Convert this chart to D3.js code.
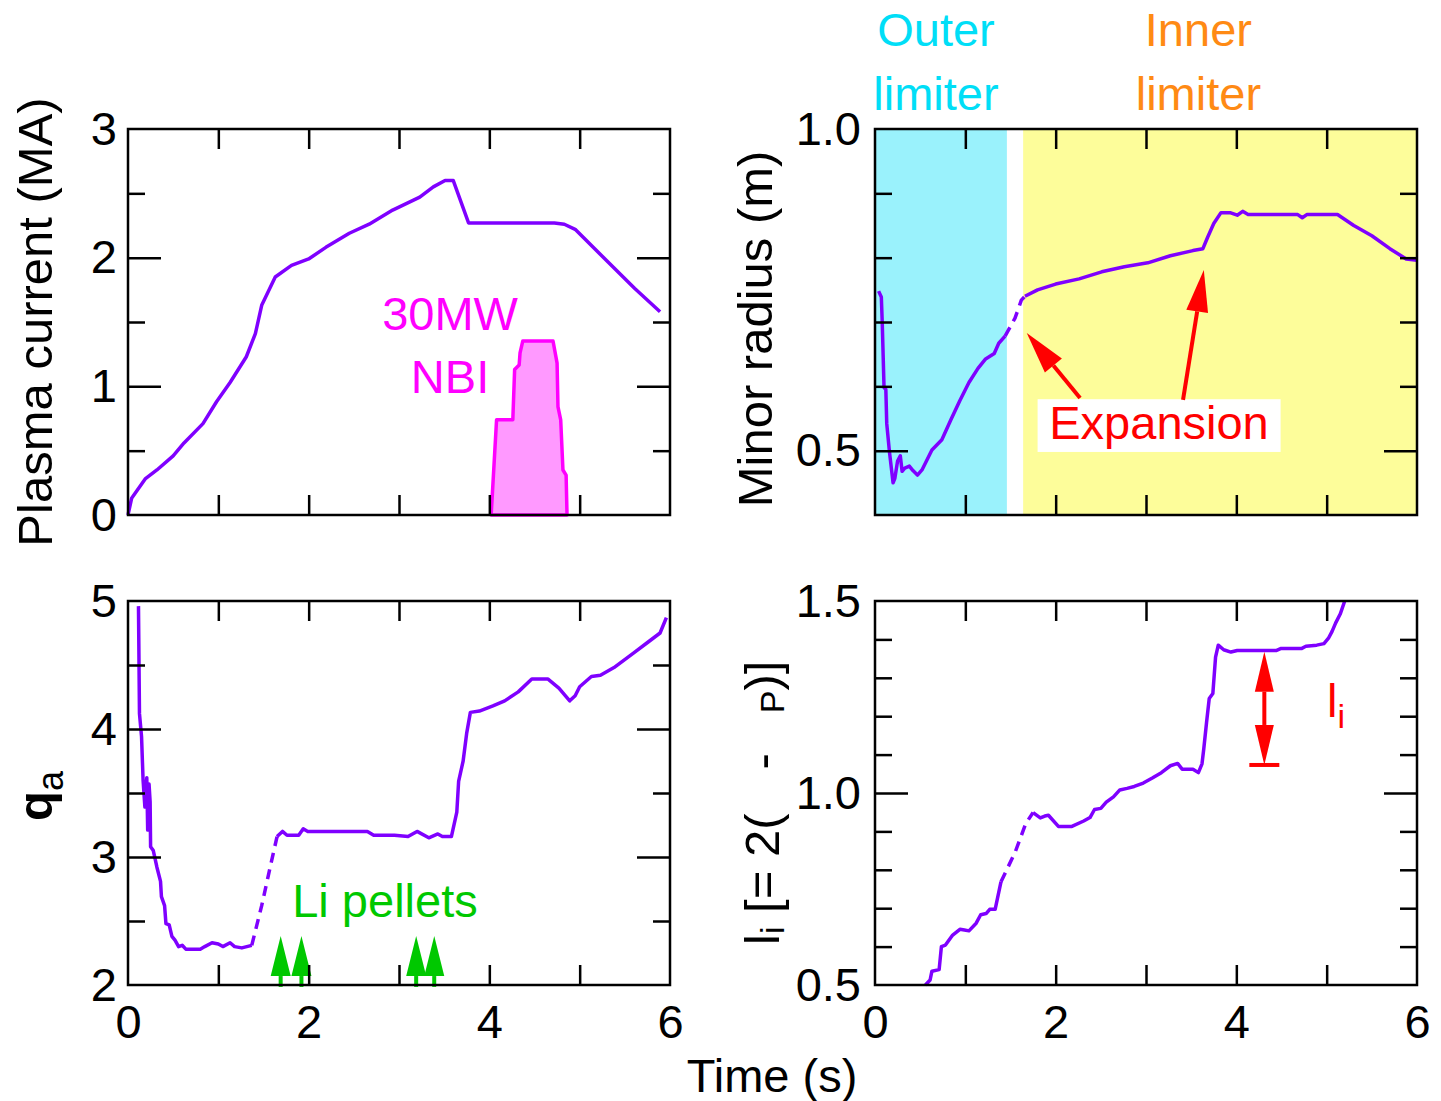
<!DOCTYPE html>
<html>
<head>
<meta charset="utf-8">
<script src="https://d3js.org/d3.v7.min.js"></script>
<style>
body { margin: 0; background: #fff; }
svg text { font-family: "Liberation Sans", Arial, sans-serif; }
</style>
</head>
<body>
<div id="chart"></div>
<script>
// ---- data (time in s) ----
const timeTicks = [1, 2, 3, 4, 5];
const timeLabels = [0, 2, 4, 6];

// plasma current (MA)
const currentT = [0, 0.04, 0.19, 0.32, 0.50, 0.62, 0.83, 0.98, 1.13, 1.31, 1.41, 1.48, 1.63, 1.81, 2.00, 2.19, 2.45, 2.67, 2.93, 3.23, 3.38, 3.51, 3.60, 3.77, 4.72, 4.83, 4.95, 5.61, 5.89];
const currentMA = [0, 0.13, 0.28, 0.35, 0.46, 0.56, 0.71, 0.88, 1.03, 1.23, 1.41, 1.63, 1.85, 1.94, 1.99, 2.08, 2.19, 2.26, 2.37, 2.47, 2.55, 2.60, 2.60, 2.27, 2.27, 2.26, 2.22, 1.76, 1.58];

// NBI power trace (drawn on the current scale)
const nbiT = [4.02, 4.03, 4.08, 4.26, 4.28, 4.33, 4.34, 4.37, 4.705, 4.75, 4.76, 4.79, 4.815, 4.85, 4.86];
const nbiV = [0, 0.12, 0.74, 0.74, 1.13, 1.165, 1.26, 1.352, 1.352, 1.18, 0.84, 0.74, 0.35, 0.31, 0];

// minor radius (m)
const radT = [0.04, 0.07, 0.08, 0.10, 0.12, 0.13, 0.16, 0.20, 0.22, 0.25, 0.28, 0.30, 0.33, 0.38, 0.42, 0.47, 0.52, 0.63, 0.74, 0.84, 0.94, 1.04, 1.14, 1.22, 1.32, 1.37, 1.44, 1.55, 1.62, 1.66, 1.80, 2.00, 2.26, 2.51, 2.76, 3.02, 3.27, 3.52, 3.63, 3.68, 3.75, 3.83, 3.93, 4.01, 4.07, 4.13, 4.68, 4.73, 4.78, 5.12, 5.30, 5.50, 5.70, 5.88, 6.00];
const radV = [0.748, 0.739, 0.700, 0.598, 0.595, 0.542, 0.498, 0.450, 0.457, 0.484, 0.492, 0.468, 0.473, 0.476, 0.469, 0.462, 0.470, 0.501, 0.517, 0.548, 0.578, 0.606, 0.628, 0.642, 0.651, 0.667, 0.678, 0.706, 0.734, 0.740, 0.750, 0.759, 0.767, 0.778, 0.786, 0.792, 0.803, 0.811, 0.814, 0.831, 0.853, 0.870, 0.870, 0.866, 0.872, 0.867, 0.867, 0.862, 0.867, 0.867, 0.850, 0.834, 0.814, 0.798, 0.796];
const outerBand = [0, 1.46];
const innerBand = [1.64, 6];

// safety factor q_a
const qT = [0.116, 0.127, 0.15, 0.167, 0.187, 0.208, 0.218, 0.233, 0.245, 0.25, 0.28, 0.32, 0.36, 0.37, 0.405, 0.42, 0.456, 0.486, 0.52, 0.56, 0.60, 0.64, 0.80, 0.85, 0.93, 1.00, 1.05, 1.13, 1.18, 1.26, 1.37, 1.48, 1.58, 1.65, 1.71, 1.76, 1.89, 1.94, 1.99, 2.65, 2.72, 2.95, 3.10, 3.20, 3.33, 3.43, 3.48, 3.58, 3.64, 3.66, 3.71, 3.75, 3.79, 3.89, 4.04, 4.17, 4.32, 4.47, 4.65, 4.77, 4.89, 4.95, 5.00, 5.13, 5.23, 5.38, 5.61, 5.74, 5.89, 5.96];
const qV = [4.96, 4.12, 3.94, 3.60, 3.39, 3.62, 3.21, 3.57, 3.43, 3.08, 3.05, 2.92, 2.81, 2.69, 2.62, 2.48, 2.47, 2.38, 2.35, 2.30, 2.31, 2.28, 2.28, 2.30, 2.33, 2.32, 2.30, 2.33, 2.30, 2.29, 2.31, 2.62, 2.94, 3.16, 3.20, 3.17, 3.17, 3.22, 3.20, 3.20, 3.17, 3.17, 3.16, 3.20, 3.15, 3.18, 3.16, 3.16, 3.35, 3.59, 3.75, 3.97, 4.13, 4.14, 4.18, 4.22, 4.29, 4.39, 4.39, 4.32, 4.22, 4.26, 4.33, 4.41, 4.42, 4.48, 4.60, 4.67, 4.75, 4.87];
const pelletTimes = [1.69, 1.92, 3.19, 3.39];

// internal inductance l_i
const liT = [0.558, 0.61, 0.63, 0.71, 0.735, 0.78, 0.86, 0.94, 0.99, 1.04, 1.12, 1.17, 1.23, 1.27, 1.33, 1.395, 1.55, 1.67, 1.75, 1.83, 1.88, 1.92, 2.03, 2.18, 2.31, 2.38, 2.43, 2.50, 2.56, 2.64, 2.71, 2.79, 2.87, 2.97, 3.07, 3.17, 3.27, 3.35, 3.40, 3.52, 3.58, 3.62, 3.64, 3.67, 3.70, 3.74, 3.77, 3.80, 3.86, 3.94, 4.01, 4.44, 4.49, 4.72, 4.77, 4.89, 4.97, 5.02, 5.06, 5.10, 5.15, 5.20];
const liV = [0.5, 0.513, 0.536, 0.54, 0.60, 0.604, 0.630, 0.645, 0.643, 0.641, 0.661, 0.683, 0.686, 0.697, 0.697, 0.769, 0.845, 0.921, 0.949, 0.935, 0.940, 0.942, 0.913, 0.913, 0.927, 0.936, 0.957, 0.960, 0.976, 0.990, 1.008, 1.012, 1.017, 1.026, 1.039, 1.053, 1.071, 1.077, 1.062, 1.062, 1.053, 1.076, 1.116, 1.183, 1.246, 1.259, 1.354, 1.385, 1.373, 1.367, 1.371, 1.371, 1.376, 1.376, 1.382, 1.385, 1.389, 1.403, 1.421, 1.443, 1.466, 1.5];

// ---- drawing ----
const purple = "#7f00ff";
const fs = 47;
const fsLab = 49;

const svg = d3.select("#chart").append("svg")
    .attr("width", 1441)
    .attr("height", 1101);

function makePanel(left, top, h, yDomain) {
  const w = 542;
  const g = svg.append("g").attr("transform", "translate(" + left + "," + top + ")");
  const x = d3.scaleLinear().domain([0, 6]).range([0, w]);
  const y = d3.scaleLinear().domain(yDomain).range([h, 0]);
  return {g: g, x: x, y: y, w: w, h: h};
}

function styleAxis(sel) {
  sel.select(".domain").remove();
  sel.selectAll(".tick line").attr("stroke", "#000").attr("stroke-width", 2.5);
  sel.selectAll("text").attr("font-size", fs).attr("fill", "#000")
    .attr("font-family", "Liberation Sans, Arial, sans-serif");
}

function drawAxes(p, o) {
  const g = p.g;
  g.append("g").call(d3.axisTop(p.x).tickValues(timeTicks).tickSize(-20).tickFormat("")).call(styleAxis);
  g.append("g").attr("transform", "translate(0," + p.h + ")")
    .call(d3.axisBottom(p.x).tickValues(timeTicks).tickSize(-20).tickFormat("")).call(styleAxis);
  if (o.xLabels) {
    g.append("g").attr("transform", "translate(0," + p.h + ")")
      .call(d3.axisBottom(p.x).tickValues(timeLabels).tickSize(0).tickPadding(20).tickFormat(d3.format("d"))).call(styleAxis);
  }
  g.append("g").call(d3.axisLeft(p.y).tickValues(o.major).tickSize(-33).tickFormat("")).call(styleAxis);
  g.append("g").call(d3.axisLeft(p.y).tickValues(o.minor).tickSize(-17).tickFormat("")).call(styleAxis);
  g.append("g").attr("transform", "translate(" + p.w + ",0)")
    .call(d3.axisRight(p.y).tickValues(o.major).tickSize(-33).tickFormat("")).call(styleAxis);
  g.append("g").attr("transform", "translate(" + p.w + ",0)")
    .call(d3.axisRight(p.y).tickValues(o.minor).tickSize(-17).tickFormat("")).call(styleAxis);
  g.append("g").call(d3.axisLeft(p.y).tickValues(o.labels).tickSize(0).tickPadding(o.pad).tickFormat(o.fmt)).call(styleAxis);
}

function frame(p) {
  p.g.append("rect").attr("width", p.w).attr("height", p.h)
    .attr("fill", "none").attr("stroke", "#000").attr("stroke-width", 2.5);
}

function trace(p, T, V, dash) {
  const pts = T.map((t, i) => [t, V[i]]);
  const line = d3.line().x(d => p.x(d[0])).y(d => p.y(d[1]));
  const parts = dash
    ? [[pts.filter(d => d[0] <= dash[0]), null],
       [pts.filter(d => d[0] >= dash[0] && d[0] <= dash[1]), "10,7"],
       [pts.filter(d => d[0] >= dash[1]), null]]
    : [[pts, null]];
  parts.forEach(([seg, da]) => {
    p.g.append("path").attr("d", line(seg))
      .attr("fill", "none").attr("stroke", purple).attr("stroke-width", 3.5)
      .attr("stroke-linejoin", "round")
      .attr("stroke-dasharray", da);
  });
}

function arrowHead(g, x1, y1, x2, y2, len, half, color) {
  const a = Math.atan2(y2 - y1, x2 - x1);
  const bx = x2 - len * Math.cos(a), by = y2 - len * Math.sin(a);
  const nx = -Math.sin(a) * half, ny = Math.cos(a) * half;
  g.append("polygon")
    .attr("points", [[x2, y2], [bx + nx, by + ny], [bx - nx, by - ny]].map(d => d.join(",")).join(" "))
    .attr("fill", color);
  return [bx, by];
}

function arrow(p, t1, v1, t2, v2, color) {
  const x1 = p.x(t1), y1 = p.y(v1), x2 = p.x(t2), y2 = p.y(v2);
  const b = arrowHead(p.g, x1, y1, x2, y2, 42, 11, color);
  p.g.append("line").attr("x1", x1).attr("y1", y1).attr("x2", b[0]).attr("y2", b[1])
    .attr("stroke", color).attr("stroke-width", 4);
}

function label(g, x, y, txt, color, anchor) {
  return g.append("text").attr("x", x).attr("y", y).attr("font-size", fs)
    .attr("fill", color).attr("text-anchor", anchor || "middle").text(txt);
}

// --- panel 1: plasma current ---
const p1 = makePanel(128, 129, 386, [0, 3]);
const nbiLine = d3.line().x(d => p1.x(d[0])).y(d => p1.y(d[1]));
p1.g.append("path").attr("d", nbiLine(nbiT.map((t, i) => [t, nbiV[i]])) + "Z")
  .attr("fill", "#ff99ff").attr("stroke", "#ff00ff").attr("stroke-width", 3.5)
  .attr("stroke-linejoin", "round");
trace(p1, currentT, currentMA, null);
drawAxes(p1, {major: [1, 2], minor: [0.5, 1.5, 2.5], labels: [0, 1, 2, 3], fmt: d3.format("d"), pad: 11, xLabels: false});
frame(p1);
label(p1.g, p1.x(3.565), p1.y(1.437), "30MW", "#ff00ff");
label(p1.g, p1.x(3.565), p1.y(0.948), "NBI", "#ff00ff");
svg.append("text").attr("transform", "translate(52,322) rotate(-90)")
  .attr("font-size", fsLab).attr("text-anchor", "middle").text("Plasma current (MA)");

// --- panel 2: minor radius ---
const p2 = makePanel(875, 129, 386, [0.4, 1.0]);
p2.g.append("rect").attr("x", p2.x(outerBand[0])).attr("y", 0)
  .attr("width", p2.x(outerBand[1]) - p2.x(outerBand[0])).attr("height", p2.h).attr("fill", "#9af2fc");
p2.g.append("rect").attr("x", p2.x(innerBand[0])).attr("y", 0)
  .attr("width", p2.x(innerBand[1]) - p2.x(innerBand[0])).attr("height", p2.h).attr("fill", "#fdfd9a");
trace(p2, radT, radV, [1.44, 1.66]);
drawAxes(p2, {major: [0.5], minor: [0.6, 0.7, 0.8, 0.9], labels: [0.5, 1.0], fmt: d3.format(".1f"), pad: 14, xLabels: false});
frame(p2);
p2.g.append("rect").attr("x", p2.x(1.80)).attr("y", p2.y(0.580))
  .attr("width", p2.x(4.49) - p2.x(1.80)).attr("height", p2.y(0.498) - p2.y(0.580)).attr("fill", "#fff");
label(p2.g, p2.x(3.144), p2.y(0.518), "Expansion", "#ff0000");
arrow(p2, 2.27, 0.582, 1.68, 0.683, "#ff0000");
arrow(p2, 3.41, 0.579, 3.64, 0.781, "#ff0000");
label(svg, p2.x(0.675) + 875, 46, "Outer", "#00def7");
label(svg, p2.x(0.675) + 875, 110, "limiter", "#00def7");
label(svg, p2.x(3.58) + 875, 46, "Inner", "#ff8a14");
label(svg, p2.x(3.58) + 875, 110, "limiter", "#ff8a14");
svg.append("text").attr("transform", "translate(772,329) rotate(-90)")
  .attr("font-size", fsLab).attr("text-anchor", "middle").text("Minor radius (m)");

// --- panel 3: q_a ---
const p3 = makePanel(128, 601, 384, [2, 5]);
trace(p3, qT, qV, [1.37, 1.65]);
pelletTimes.forEach(t => {
  const cx = p3.x(t);
  p3.g.append("line").attr("x1", cx).attr("x2", cx).attr("y1", p3.y(2.07)).attr("y2", p3.y(1.985))
    .attr("stroke", "#00c800").attr("stroke-width", 4);
  p3.g.append("polygon")
    .attr("points", [[cx, p3.y(2.383)], [cx - 10, p3.y(2.07)], [cx + 10, p3.y(2.07)]].map(d => d.join(",")).join(" "))
    .attr("fill", "#00c800");
});
drawAxes(p3, {major: [3, 4], minor: [2.5, 3.5, 4.5], labels: [2, 3, 4, 5], fmt: d3.format("d"), pad: 11, xLabels: true});
frame(p3);
label(p3.g, p3.x(2.845), p3.y(2.53), "Li pellets", "#00c800");
const qLab = svg.append("text").attr("transform", "translate(52,821) rotate(-90)")
  .attr("font-size", fsLab);
qLab.append("tspan").attr("font-weight", "bold").text("q");
qLab.append("tspan").attr("font-size", 36).attr("dy", 11).text("a");

// --- panel 4: l_i ---
const p4 = makePanel(875, 601, 384, [0.5, 1.5]);
trace(p4, liT, liV, [1.395, 1.75]);
drawAxes(p4, {major: [1.0], minor: [0.6, 0.7, 0.8, 0.9, 1.1, 1.2, 1.3, 1.4], labels: [0.5, 1.0, 1.5], fmt: d3.format(".1f"), pad: 14, xLabels: true});
frame(p4);
{
  const ax = p4.x(4.31), yTop = p4.y(1.368), yBot = p4.y(1.073);
  arrowHead(p4.g, ax, yTop + 60, ax, yTop, 40, 9.5, "#ff0000");
  arrowHead(p4.g, ax, yBot - 60, ax, yBot, 40, 9.5, "#ff0000");
  p4.g.append("line").attr("x1", ax).attr("x2", ax).attr("y1", yTop + 40).attr("y2", yBot - 40)
    .attr("stroke", "#ff0000").attr("stroke-width", 4);
  p4.g.append("line").attr("x1", ax - 15).attr("x2", ax + 15).attr("y1", yBot).attr("y2", yBot)
    .attr("stroke", "#ff0000").attr("stroke-width", 4);
}
const liLab = p4.g.append("text").attr("x", p4.x(5.004)).attr("y", p4.y(1.198))
  .attr("font-size", fs).attr("fill", "#ff0000");
liLab.append("tspan").text("l");
liLab.append("tspan").attr("font-size", 34).attr("dy", 11).text("i");

const yl = svg.append("text").attr("transform", "translate(779,945) rotate(-90)")
  .attr("font-size", fsLab);
yl.append("tspan").text("l");
yl.append("tspan").attr("font-size", 34).attr("dy", 5).text("i");
yl.append("tspan").attr("dy", -5).text(" [= 2(");
yl.append("tspan").attr("dx", 44).text("-");
yl.append("tspan").attr("dx", 40).attr("font-size", 34).attr("dy", 5).text("P");
yl.append("tspan").attr("dy", -5).text(")]");

svg.append("text").attr("x", 772).attr("y", 1092).attr("font-size", fs)
  .attr("text-anchor", "middle").text("Time (s)");
</script>
</body>
</html>
